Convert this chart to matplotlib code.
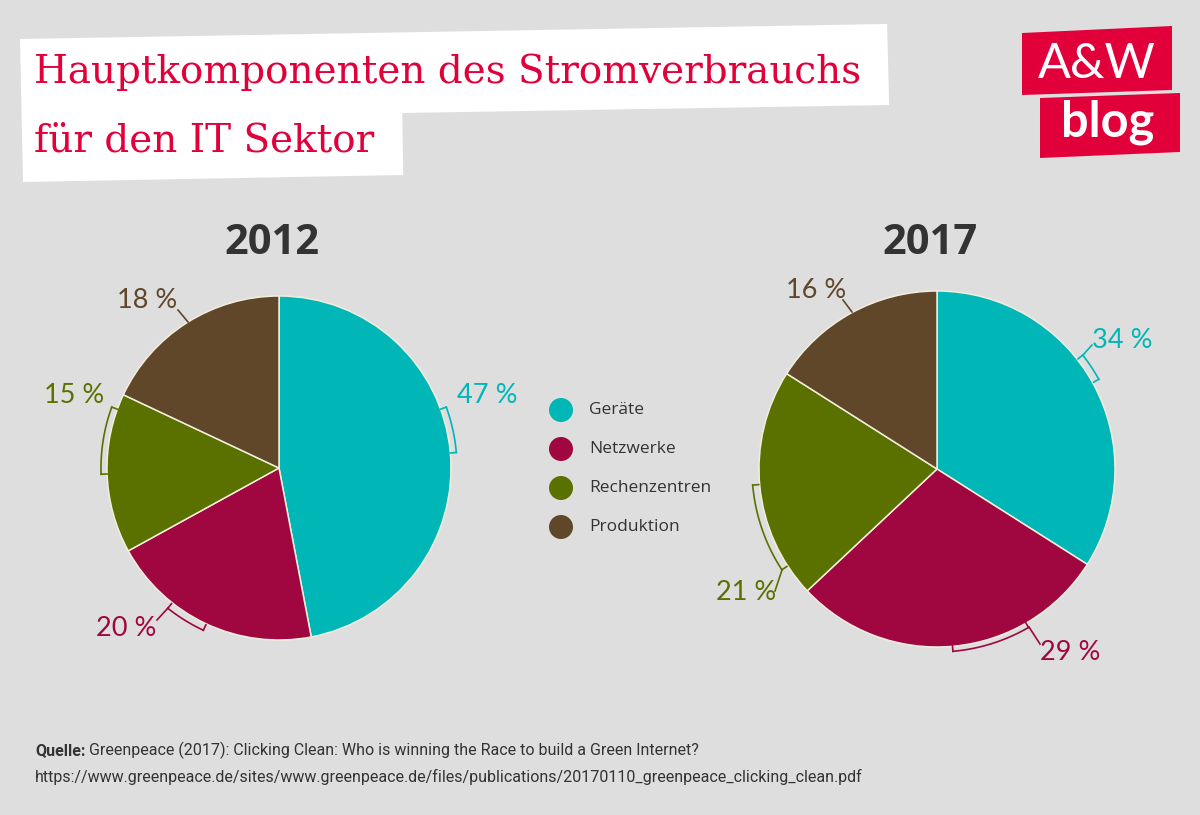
import numpy as np
import matplotlib.pyplot as plt
from matplotlib.patches import Polygon, Circle

# data
categories = ['Geräte', 'Netzwerke', 'Rechenzentren', 'Produktion']
years = ['2012', '2017']
share_2012 = [47, 20, 15, 18]
share_2017 = [34, 29, 21, 16]
colors = ['#00B6B7', '#A0063F', '#5A7100', '#60472A']

title_lines = ['Hauptkomponenten des Stromverbrauchs', 'für den IT Sektor']
source_bold = 'Quelle:'
source_text = ' Greenpeace (2017): Clicking Clean: Who is winning the Race to build a Green Internet?'
source_url = 'https://www.greenpeace.de/sites/www.greenpeace.de/files/publications/20170110_greenpeace_clicking_clean.pdf'

W, H = 1200, 815
BG = '#DEDEDE'
TXT = '#333333'
LABEL_FONT = ['Lato', 'DejaVu Sans']
SRC_FONT = ['Roboto', 'DejaVu Sans']

fig = plt.figure(figsize=(W / 100, H / 100), dpi=100, facecolor=BG)
bg = fig.add_axes([0, 0, 1, 1])
bg.set_xlim(0, W)
bg.set_ylim(H, 0)
bg.axis('off')

# title (box is sized to the text below)
tt1 = bg.text(34, 83, title_lines[0], color='#E2003B', fontsize=28, family='DejaVu Serif',
              va='baseline', zorder=3)
tt2 = bg.text(34, 152, title_lines[1], color='#E2003B', fontsize=28, family='DejaVu Serif',
              va='baseline', zorder=3)

# source
t1 = bg.text(35, 755, source_bold, color=TXT, fontsize=11.5, family=SRC_FONT, weight='bold', va='baseline')
bg.text(35, 782, source_url, color=TXT, fontsize=11.5, family=SRC_FONT, va='baseline')
fig.canvas.draw()
bb = t1.get_window_extent()
bg.text(35 + bb.width, 755, source_text, color=TXT, fontsize=11.5, family=SRC_FONT, va='baseline')

x1 = max(886, tt1.get_window_extent().x1 + 26)
x2 = max(343, tt2.get_window_extent().x1 + 28)
bg.add_patch(Polygon([(20, 39), (x1, 24), (x1 + 2, 105), (x2, 113), (x2 + 1, 175), (23, 182)],
                     closed=True, fc='white', ec='none', zorder=2))

# logo
bg.add_patch(Polygon([(1022, 33), (1172, 26), (1172, 90), (1022, 95)], closed=True, fc='#E2003B', ec='none'))
bg.add_patch(Polygon([(1040, 98), (1180, 93), (1180, 152), (1040, 158)], closed=True, fc='#E2003B', ec='none'))
bg.text(1097, 64, 'A&W', color='white', fontsize=35, family='Lato', ha='center', va='center')
bg.text(1108, 122, 'blog', color='white', fontsize=35, family='Lato', weight='bold', ha='center', va='center')

# legend
for i, (cat, col) in enumerate(zip(categories, colors)):
    y = 410 + i * 39
    bg.add_patch(Circle((561, y), 12, fc=col, ec='none'))
    bg.text(589, y, cat, color=TXT, fontsize=12.5, family=['Open Sans', 'DejaVu Sans'], va='center')


def bracket(ax, a1, a2, rb, color, tick=6):
    t = np.radians(np.linspace(a1, a2, 50))
    ax.plot(rb * np.cos(t), rb * np.sin(t), color=color, lw=1.2)
    for a in (a1, a2):
        ar = np.radians(a)
        ax.plot([rb * np.cos(ar), (rb - tick) * np.cos(ar)],
                [rb * np.sin(ar), (rb - tick) * np.sin(ar)], color=color, lw=1.2)


def draw_pie(cx, cy, r, values, year, layout):
    R = r + 120
    ax = fig.add_axes([(cx - R) / W, (H - cy - R) / H, 2 * R / W, 2 * R / H])
    ax.patch.set_alpha(0)
    ax.pie(values, colors=colors, startangle=90, counterclock=False, radius=r,
           wedgeprops=dict(edgecolor='#F2EEDC', linewidth=1.1))
    ax.set_xlim(-R, R)
    ax.set_ylim(-R, R)
    ax.set_aspect('equal')
    ax.axis('off')
    for v, col, lay in zip(values, colors, layout):
        arc, lead, txt, ha = lay
        if arc is not None:
            bracket(ax, arc[0], arc[1], arc[2], col)
        if lead is not None:
            ax.plot([lead[0], lead[2]], [lead[1], lead[3]], color=col, lw=1.2)
        ax.text(txt[0], txt[1], f'{v} %', color=col, fontsize=19.5, family=LABEL_FONT,
                ha=ha, va='center')
    bg.text(cx - 7, 243, year, color=TXT, fontsize=30, family=['Open Sans', 'DejaVu Sans'],
            weight='bold', ha='center', va='center')


# label layout per wedge: (arc a1, a2, radius), leader (x0, y0, x1, y1), text pos, alignment
layout_2012 = [
    ((5, 20, 178), None, (178, 73), 'left'),
    ((231.6, 245, 179), (-111, -140, -122, -152), (-123, -160), 'right'),
    ((160, 182, 178), None, (-175, 73), 'right'),
    (None, (-91, 146, -101, 158), (-102, 168), 'right'),
]
layout_2017 = [
    ((29, 38, 185), (146, 114, 155, 124), (155, 128), 'left'),
    ((-85, -60, 183), (92, -158, 103, -175), (103, -183), 'left'),
    ((185, 213, 185), (-155, -101, -162, -122), (-161, -123), 'right'),
    (None, (-85, 157, -94, 169), (-91, 179), 'right'),
]

draw_pie(279, 468, 172, share_2012, years[0], layout_2012)
draw_pie(937, 469, 178, share_2017, years[1], layout_2017)

fig.savefig('out.png', dpi=100, facecolor=BG)
